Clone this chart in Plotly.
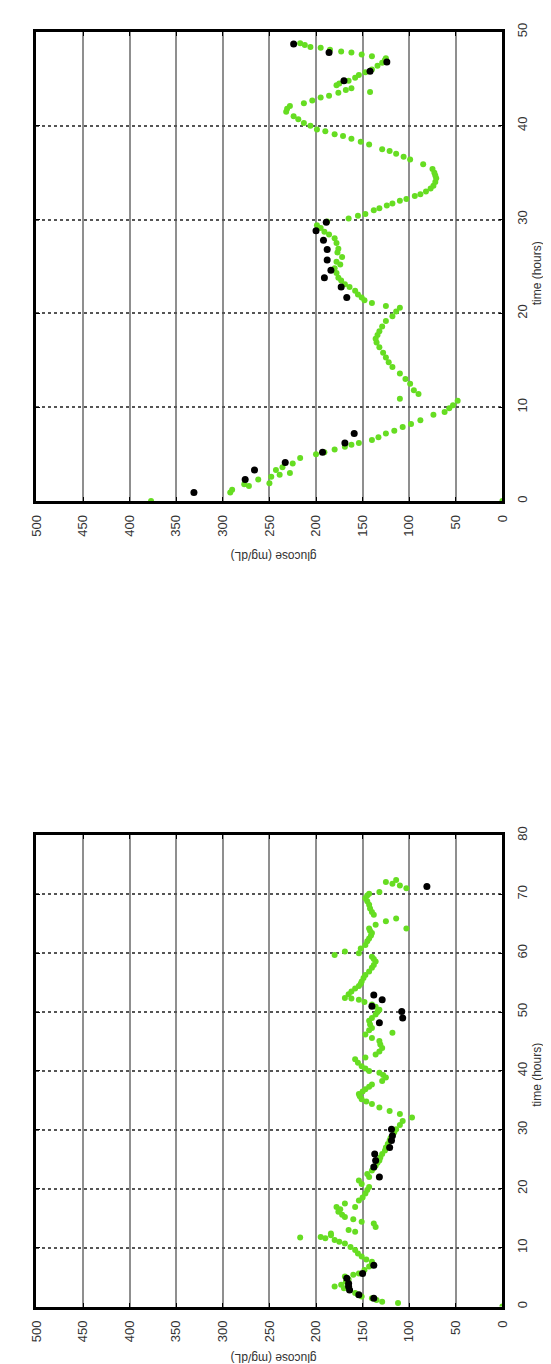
import plotly.graph_objects as go

# ---------------- data: top panel (0-50 h) ----------------
top_green_t = [0, 0, 0.9, 1.2, 1.6, 1.8, 1.9, 2.3, 2.6, 2.8, 3.0, 3.3, 3.6, 4.0, 4.6, 5.0, 5.2, 5.5, 5.8, 6.0,
               6.2, 6.5, 6.8, 7.2, 7.5, 7.9, 8.2, 8.6, 9.2, 9.5, 9.9, 10.2, 10.7, 10.9, 11.4, 11.8, 12.5, 13.0,
               13.6, 14.3, 14.8, 15.3, 15.8, 16.4, 16.9, 17.3, 17.7, 18.1, 18.6, 19.2, 19.7, 20.2, 20.6, 20.8,
               21.1, 21.4, 21.7, 22.0, 22.4, 22.8, 23.1, 23.5, 23.8, 24.3, 24.8, 25.2, 25.5, 26.0, 26.5, 26.9,
               27.5, 28.0, 28.4, 28.7, 29.1, 29.4, 29.8, 30.1, 30.4, 30.6, 31.0, 31.2, 31.5, 31.7, 32.0, 32.2,
               32.5, 32.7, 33.0, 33.3, 33.6, 34.0, 34.4, 34.7, 35.0, 35.4, 35.9, 36.4, 36.7, 37.0, 37.3, 37.5,
               38.0, 38.3, 38.6, 38.9, 39.1, 39.4, 39.6, 40.0, 40.3, 40.7, 41.0, 41.5, 41.8, 42.1, 42.4, 42.7,
               43.0, 43.2, 43.5, 43.6, 43.8, 44.0, 44.3, 44.5, 44.8, 45.1, 45.4, 45.7, 46.0, 46.4, 46.7, 47.0,
               47.2, 47.4, 47.6, 47.8, 47.9, 48.1, 48.3, 48.4, 48.6, 48.8]
top_green_g = [377, 0, 292, 290, 272, 277, 250, 262, 248, 239, 228, 243, 236, 225, 217, 200, 191, 180, 169, 162,
               154, 140, 133, 125, 116, 107, 98, 88, 74, 62, 57, 53, 48, 110, 90, 95, 99, 104,
               110, 118, 122, 125, 128, 132, 135, 136, 134, 132, 129, 125, 118, 114, 110, 125,
               140, 148, 151, 155, 158, 164, 169, 173, 176, 178, 180, 174, 178, 172, 177, 176,
               178, 180, 186, 191, 195, 199, 188, 165, 155, 147, 138, 132, 124, 118, 110, 103,
               94, 88, 82, 77, 74, 72, 71, 72, 73, 75, 85, 99, 106, 114, 121, 129,
               143, 152, 162, 171, 180, 190, 199, 206, 213, 219, 224, 232, 231, 228, 213, 204,
               195, 186, 176, 142, 168, 162, 178, 175, 165, 158, 154, 147, 140, 134, 129, 126,
               125, 140, 151, 162, 173, 185, 195, 206, 212, 217]

top_black_t = [0.9, 2.3, 3.3, 4.1, 5.2, 6.2, 7.2, 21.7, 22.8, 23.8, 24.6, 25.7, 26.8, 27.8, 28.8, 29.7,
               44.8, 45.8, 46.8, 47.8, 48.7]
top_black_g = [331, 276, 266, 233, 193, 169, 159, 167, 173, 191, 184, 188, 188, 192, 200, 189,
               170, 142, 124, 186, 224]

# ---------------- data: bottom panel (0-80 h) ----------------
bot_green_t = [0, 0.6, 0.8, 1.1, 1.4, 1.7, 2.0, 2.3, 2.8, 3.1, 3.4, 3.7, 4.2, 4.6, 5.1, 5.4, 5.6, 6.2, 6.8, 7.2,
               7.6, 8.0, 8.5, 9.0, 9.6, 10.1, 10.7, 11.0, 11.3, 11.6, 11.8, 11.7, 12.1, 12.4, 12.7, 13.0, 13.5,
               14.1, 14.4, 14.8, 15.2, 15.6, 16.1, 16.5, 16.9, 16.9, 17.5, 18.0, 18.5, 19.2, 19.8, 20.3, 20.8,
               21.4, 22.0, 22.5, 23.1, 23.5, 23.9, 24.4, 24.8, 25.3, 25.9, 26.5, 27.0, 27.6, 28.2, 28.6, 29.0,
               29.6, 30.1, 30.8, 31.5, 32.1, 32.7, 33.2, 33.8, 34.4, 34.8, 35.2, 35.7, 36.1, 36.5, 36.9, 37.3,
               37.7, 38.3, 38.9, 39.3, 39.7, 40.0, 40.4, 40.8, 41.4, 42.0, 42.3, 42.8, 43.3, 43.9, 44.5, 45.1,
               45.6, 46.2, 46.5, 46.9, 47.3, 47.9, 48.5, 49.0, 49.6, 50.0, 50.4, 50.9, 51.3, 51.7, 52.1, 52.3,
               52.4, 53.0, 53.5, 54.0, 54.4, 54.8, 55.2, 55.8, 56.3, 56.9, 57.5, 58.0, 58.6, 59.0, 59.4, 59.7,
               60.0, 60.3, 60.8, 61.4, 62.0, 62.5, 63.0, 63.4, 63.8, 64.2, 64.2, 64.8, 65.4, 65.9, 66.5, 67.0,
               67.6, 68.2, 68.8, 69.3, 69.8, 70.1, 70.4, 71.0, 71.5, 71.8, 72.1, 72.4]
bot_green_g = [0, 112, 129, 135, 140, 151, 155, 158, 164, 170, 180, 173, 168, 165, 169, 160, 154, 148, 143, 140,
               140, 146, 151, 155, 158, 163, 169, 175, 180, 190, 195, 217, 184, 184, 158, 165, 136,
               138, 151, 160, 169, 172, 176, 174, 178, 158, 169, 154, 150, 147, 145, 143, 151,
               154, 143, 145, 140, 138, 136, 134, 132, 131, 129, 126, 125, 123, 121, 120, 118,
               116, 114, 110, 107, 97, 110, 121, 132, 140, 146, 151, 153, 154, 150, 147, 143,
               140, 129, 125, 128, 132, 143, 147, 151, 155, 158, 147, 136, 132, 129, 131, 132,
               140, 147, 118, 143, 140, 142, 143, 140, 136, 134, 132, 136, 140, 148, 154, 162,
               169, 165, 162, 158, 154, 152, 151, 149, 147, 143, 140, 138, 136, 138, 140, 180,
               154, 169, 152, 147, 145, 143, 141, 140, 142, 143, 103, 136, 125, 114, 138, 140,
               142, 143, 145, 147, 145, 143, 132, 103, 110, 118, 125, 114]

bot_black_t = [1.4, 2.0, 2.8, 3.4, 3.9, 4.8, 5.6, 7.0, 22.0, 23.7, 24.8, 25.9, 27.0, 28.2, 29.0, 30.1,
               48.2, 49.0, 50.1, 51.0, 52.1, 52.9, 71.3]
bot_black_g = [138, 154, 164, 165, 165, 167, 150, 138, 132, 138, 136, 137, 121, 119, 118, 119,
               132, 107, 108, 140, 129, 138, 81]

glucose_ticks = [0, 50, 100, 150, 200, 250, 300, 350, 400, 450, 500]
glucose_title = "glucose (mg/dL)"
time_title = "time (hours)"

GREEN = "#66dd22"
BLACK = "#000000"
FONT = "Liberation Sans, Arial, sans-serif"

W, H = 551, 1364
def px(x):
    return x / W
def py(y):
    return 1 - y / H

fig = go.Figure()
fig.add_trace(go.Scatter(x=top_green_g, y=top_green_t, mode="markers",
                         marker=dict(color=GREEN, size=6), xaxis="x", yaxis="y", showlegend=False))
fig.add_trace(go.Scatter(x=top_black_g, y=top_black_t, mode="markers",
                         marker=dict(color=BLACK, size=7), xaxis="x", yaxis="y", showlegend=False))
fig.add_trace(go.Scatter(x=bot_green_g, y=bot_green_t, mode="markers",
                         marker=dict(color=GREEN, size=6), xaxis="x2", yaxis="y2", showlegend=False))
fig.add_trace(go.Scatter(x=bot_black_g, y=bot_black_t, mode="markers",
                         marker=dict(color=BLACK, size=7), xaxis="x2", yaxis="y2", showlegend=False))

xcommon = dict(range=[500, 0], tickvals=glucose_ticks, tickangle=-90, showline=True, linecolor="black",
               linewidth=2.5, mirror="ticks", ticks="inside", ticklen=4, tickcolor="black",
               showgrid=True, gridcolor="#8f8f8f", gridwidth=1.5, zeroline=False,
               tickfont=dict(family=FONT, size=13, color="#333"), ticklabelstandoff=6,
               fixedrange=True)
ycommon = dict(side="right", tickangle=-90, dtick=10, showline=True, linecolor="black",
               linewidth=2.5, mirror="ticks", ticks="inside", ticklen=4, tickcolor="black",
               showgrid=True, gridcolor="#555555", gridwidth=1.5, griddash="dot", zeroline=False,
               tickfont=dict(family=FONT, size=13, color="#333"), ticklabelstandoff=6,
               fixedrange=True)

fig.update_layout(
    width=W, height=H, margin=dict(l=0, r=0, t=0, b=0),
    paper_bgcolor="white", plot_bgcolor="white",
    xaxis=dict(domain=[px(21), px(500)], anchor="y", **xcommon),
    yaxis=dict(domain=[py(488), py(15)], anchor="x", range=[0, 50], **ycommon),
    xaxis2=dict(domain=[px(21), px(500)], anchor="y2", **xcommon),
    yaxis2=dict(domain=[py(1300), py(825)], anchor="x2", range=[0, 80], **ycommon),
)

ann = []
for ycen_time, ycen_gl in [(258, 544), (1066, 1352)]:
    ann.append(dict(text=time_title, x=px(536), y=py(ycen_time), xref="paper", yref="paper",
                    textangle=-90, showarrow=False, xanchor="center", yanchor="middle",
                    font=dict(family=FONT, size=12, color="#333")))
    ann.append(dict(text=glucose_title, x=px(265), y=py(ycen_gl), xref="paper", yref="paper",
                    textangle=180, showarrow=False, xanchor="center", yanchor="middle",
                    font=dict(family=FONT, size=12, color="#333")))
fig.update_layout(annotations=ann)

fig.write_html("out.html")
